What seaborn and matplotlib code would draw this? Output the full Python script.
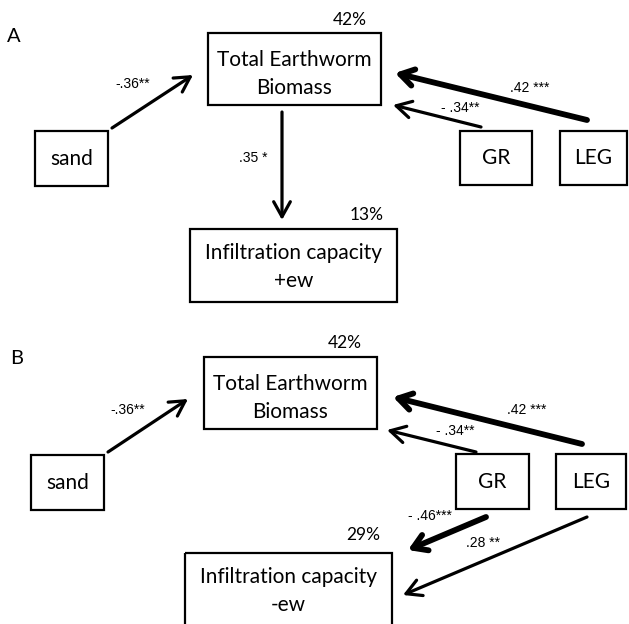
import matplotlib
matplotlib.use("Agg")
import matplotlib.pyplot as plt
import seaborn as sns
from matplotlib.patches import Rectangle

sns.set_theme(style="white")
plt.rcParams['font.family'] = ['Lato', 'DejaVu Sans']

# ---- data ----
panel_labels = ["A", "B"]
node_names = ["Total Earthworm\nBiomass", "sand", "GR", "LEG"]
infil_names = ["Infiltration capacity\n+ew", "Infiltration capacity\n-ew"]
r2_teb = ["42%", "42%"]
r2_infil = ["13%", "29%"]
# path coefficients (source, target, label text, thick?)
paths_A = [("sand", "TEB", "-.36**", False),
           ("TEB", "INF", ".35 *", False),
           ("LEG", "TEB", ".42 ***", True),
           ("GR", "TEB", "- .34**", False)]
paths_B = [("sand", "TEB", "-.36**", False),
           ("LEG", "TEB", ".42 ***", True),
           ("GR", "TEB", "- .34**", False),
           ("GR", "INF", "- .46***", True),
           ("LEG", "INF", ".28 **", False)]

# ---- layout (pixel coordinates) ----
boxes = {
    "A": {"TEB": (208, 33, 381, 105), "sand": (35, 131, 108, 186),
          "GR": (460, 131, 532, 185), "LEG": (560, 131, 627, 185),
          "INF": (190, 229, 397, 302)},
    "B": {"TEB": (204, 357, 377, 429), "sand": (31, 455, 104, 510),
          "GR": (456, 454, 529, 509), "LEG": (556, 454, 626, 509),
          "INF": (185, 553, 392, 630)},
}
text_shift = {"TEB": 4.5, "sand": 0.5, "GR": 0.5, "LEG": 0.5}
arrows = {
    "A": [((112, 128), (193, 75), (133, 84)),
          ((282, 112), (282, 220), (253, 158)),
          ((587, 120), (395, 73), (530, 88)),
          ((481, 127), (393, 105), (460, 108))],
    "B": [((108, 452), (188, 399), (128, 410)),
          ((582, 444), (393, 397), (527, 410)),
          ((476, 452), (387, 430), (455, 431)),
          ((486, 517), (408, 550), (430, 516)),
          ((587, 517), (403, 595), (483, 543))],
}
panel_pos = {"A": (14, 37), "B": (17, 358)}
r2_pos = {"A": ((350, 20), (367, 215)), "B": ((345, 343), (363, 535))}

fig = plt.figure(figsize=(6.29, 6.24), dpi=100)
ax = fig.add_axes([0, 0, 1, 1])
ax.set_xlim(0, 629)
ax.set_ylim(624, 0)
ax.axis("off")

label_map = {"TEB": node_names[0], "sand": node_names[1], "GR": node_names[2], "LEG": node_names[3]}

for i, p in enumerate(panel_labels):
    ax.text(*panel_pos[p], p, fontsize=14.5, ha="center", va="center", color="black")
    for key, (x0, y0, x1, y1) in boxes[p].items():
        ax.add_patch(Rectangle((x0, y0), x1 - x0, y1 - y0, fill=False,
                               edgecolor="black", linewidth=1.6, clip_on=False))
        txt = infil_names[i] if key == "INF" else label_map[key]
        cy = (y0 + y1) / 2 + text_shift[key] if key != "INF" else y0 + 38
        ax.text((x0 + x1) / 2, cy, txt, fontsize=15, ha="center", va="center",
                linespacing=1.5, color="black")
    ax.text(*r2_pos[p][0], r2_teb[i], fontsize=12.5, ha="center", va="center", color="black")
    ax.text(*r2_pos[p][1], r2_infil[i], fontsize=12.5, ha="center", va="center", color="black")
    paths = paths_A if p == "A" else paths_B
    for (src, dst, lab, thick), (start, end, lpos) in zip(paths, arrows[p]):
        lw = 4.2 if thick else 2.3
        hw = 0.5
        hl = 0.8 if thick else 0.9
        ax.annotate("", xy=end, xytext=start,
                    arrowprops=dict(arrowstyle=f"->,head_length={hl},head_width={hw}",
                                    lw=lw, color="black", shrinkA=0, shrinkB=0))
        ax.text(*lpos, lab, fontsize=10, ha="center", va="center",
                family=["Liberation Sans", "DejaVu Sans"], color="black")

fig.savefig("out.png", dpi=100, facecolor="white")
